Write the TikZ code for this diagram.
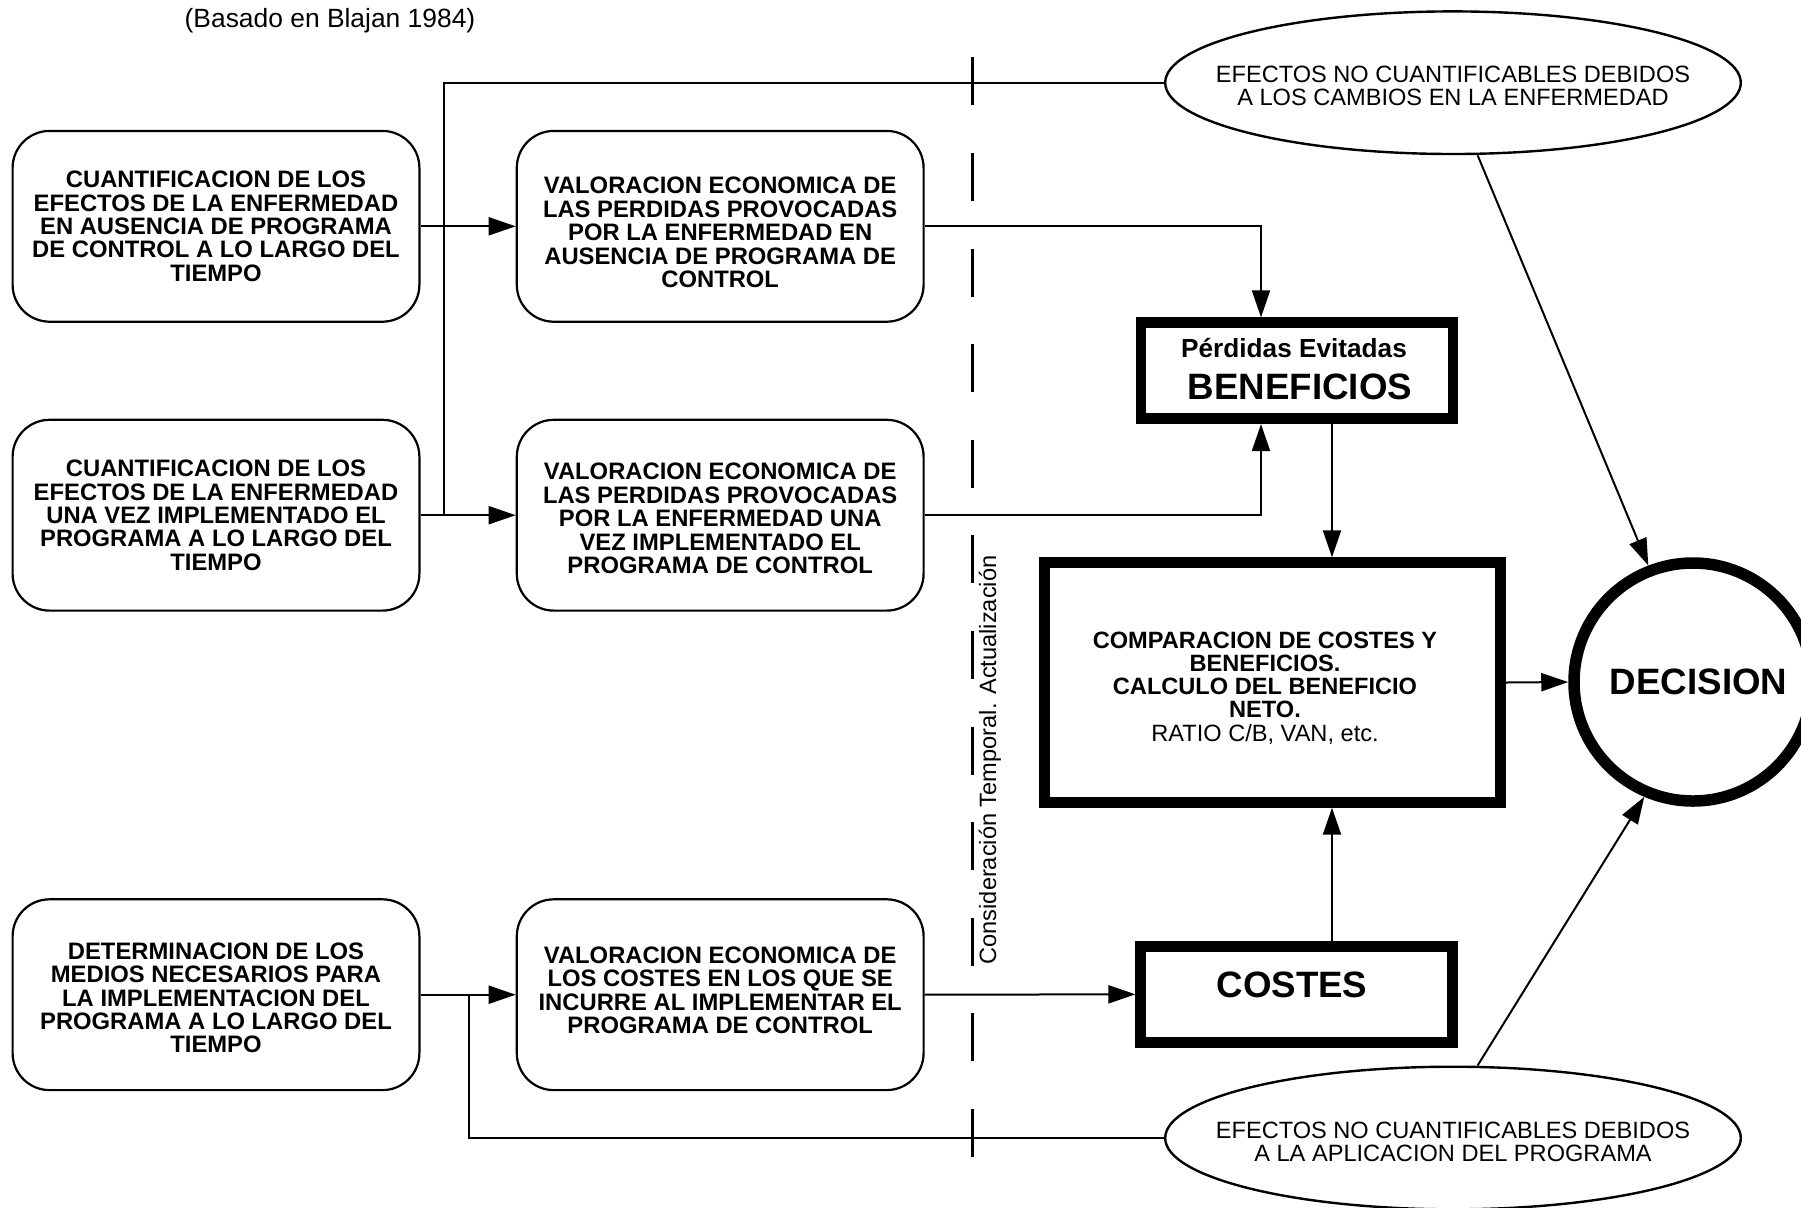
\documentclass[tikz,border=0pt]{standalone}
\usepackage{fontspec}
\setmainfont{Liberation Sans}
\usetikzlibrary{arrows.meta,shapes.geometric}
\begin{document}
\begin{tikzpicture}[x=0.5pt,y=-0.5pt,
  rbox/.style={draw,line width=1.1pt,rounded corners=18.5pt,minimum width=203.4pt,minimum height=95.4pt,align=center,inner sep=0pt,font=\fontsize{11.9}{11.7}\selectfont\bfseries},
  tbox/.style={draw,line width=5.3pt,inner sep=0pt},
  ell/.style={draw,ellipse,line width=1.2pt,minimum width=287.8pt,minimum height=71.3pt,inner sep=0pt},
  etext/.style={align=center,inner sep=0pt,font=\fontsize{11.8}{11.6}\selectfont},
  bigT/.style={inner sep=0pt,font=\fontsize{18.35}{20}\selectfont\bfseries},
  conn/.style={line width=1pt},
  arr/.style={conn,-{Triangle[length=13.5pt,width=9pt]}},
  dashline/.style={line width=1.25pt,dash pattern=on 24pt off 23.8pt}
]
\useasboundingbox (0,0) rectangle (1801,1207);

% title
\node[inner sep=0pt,font=\fontsize{13.2}{15}\selectfont] (title) at (330,21) {(Basado en Blajan 1984)};

% left column
\node[rbox] (A1) at (216,226.3) {CUANTIFICACION DE LOS\\EFECTOS DE LA ENFERMEDAD\\EN AUSENCIA DE PROGRAMA\\DE CONTROL A LO LARGO DEL\\TIEMPO};
\node[rbox] (A2) at (216,515.2) {CUANTIFICACION DE LOS\\EFECTOS DE LA ENFERMEDAD\\UNA VEZ IMPLEMENTADO EL\\PROGRAMA A LO LARGO DEL\\TIEMPO};
\node[rbox] (A3) at (216,994.7) {\rule{0pt}{11.5pt}DETERMINACION DE LOS\\MEDIOS NECESARIOS PARA\\LA IMPLEMENTACION DEL\\PROGRAMA A LO LARGO DEL\\TIEMPO};

% middle column
\node[rbox] (B1) at (720.2,226.3) {\rule{0pt}{14.5pt}VALORACION ECONOMICA DE\\LAS PERDIDAS PROVOCADAS\\POR LA ENFERMEDAD EN\\AUSENCIA DE PROGRAMA DE\\CONTROL};
\node[rbox] (B2) at (720.2,515.2) {\rule{0pt}{11.5pt}VALORACION ECONOMICA DE\\LAS PERDIDAS PROVOCADAS\\POR LA ENFERMEDAD UNA\\VEZ IMPLEMENTADO EL\\PROGRAMA DE CONTROL};
\node[rbox] (B3) at (720.2,994.7) {VALORACION ECONOMICA DE\\LOS COSTES EN LOS QUE SE\\INCURRE AL IMPLEMENTAR EL\\PROGRAMA DE CONTROL\rule[-4.5pt]{0pt}{0pt}};

% dashed time line
\coordinate (dtop) at (972.5,57.4);
\coordinate (dbot) at (972.5,1162);
\draw[dashline] (dtop) -- (dbot);
\node[inner sep=0pt,rotate=90,font=\fontsize{11.8}{14}\selectfont] (vtext) at (990,760) {Consideración Temporal. Actualización};

% right part
\node[tbox,minimum width=156pt,minimum height=48.05pt] (ben) at (1297,370.7) {};
\node[inner sep=0pt,anchor=base,font=\fontsize{13.1}{15}\selectfont\bfseries] (benT1) at (1294,357.4) {Pérdidas Evitadas};
\node[bigT,anchor=base] (benT2) at (1300,399.1) {BENEFICIOS};

\node[tbox,minimum width=228pt,minimum height=119.9pt] (cmp) at (1272.7,682.5) {};
\node[etext] (cmpT) at (1265,688) {\textbf{COMPARACION DE COSTES Y}\\\textbf{BENEFICIOS.}\\\textbf{CALCULO DEL BENEFICIO}\\\textbf{NETO.}\\RATIO C/B, VAN, etc.};

\node[tbox,minimum width=156pt,minimum height=48.05pt] (cost) at (1296.7,994.3) {};
\node[bigT,anchor=base] (costT) at (1292,997.6) {COSTES};

\node[draw,circle,line width=5.75pt,minimum size=119pt,inner sep=0pt,font=\fontsize{18.35}{20}\selectfont\bfseries] (D) at (1693,682) {\hspace{5.6pt}DECISION};

\node[ell] (E1) at (1453,82.7) {};
\node[etext] (E1T) at (1453,85.5) {EFECTOS NO CUANTIFICABLES DEBIDOS\\A LOS CAMBIOS EN LA ENFERMEDAD};
\node[ell] (E2) at (1453,1138) {};
\node[etext] (E2T) at (1453,1141.5) {EFECTOS NO CUANTIFICABLES DEBIDOS\\A LA APLICACION DEL PROGRAMA};

% helper coordinates
\coordinate (j1) at (444,515.2);
\coordinate (j2) at (469,994.7);
\coordinate (bx) at (1261,0);
\coordinate (vx) at (1332,0);

% connectors
\draw[arr] (A1.east) -- (B1.west);
\draw[arr] (A2.east) -- (B2.west);
\draw[arr] (A3.east) -- (B3.west);
\draw[conn] (j1) |- (E1.west);
\draw[conn] (j2) |- (E2.west);
\draw[arr] (B1.east) -| (ben.north -| bx);
\draw[arr] (B2.east) -| (ben.south -| bx);
\draw[arr] (ben.south -| vx) -- (cmp.north -| vx);
\draw[arr] (cost.north -| vx) -- (cmp.south -| vx);
\draw[arr] (B3.east) -- (cost.west);
\draw[arr] (cmp.east) -- (D.west);
\draw[arr] ([xshift=12.3pt]E1.south) -- (D.111.8);
\draw[arr] ([xshift=12.3pt]E2.north) -- (D.247.7);
\end{tikzpicture}
\end{document}
